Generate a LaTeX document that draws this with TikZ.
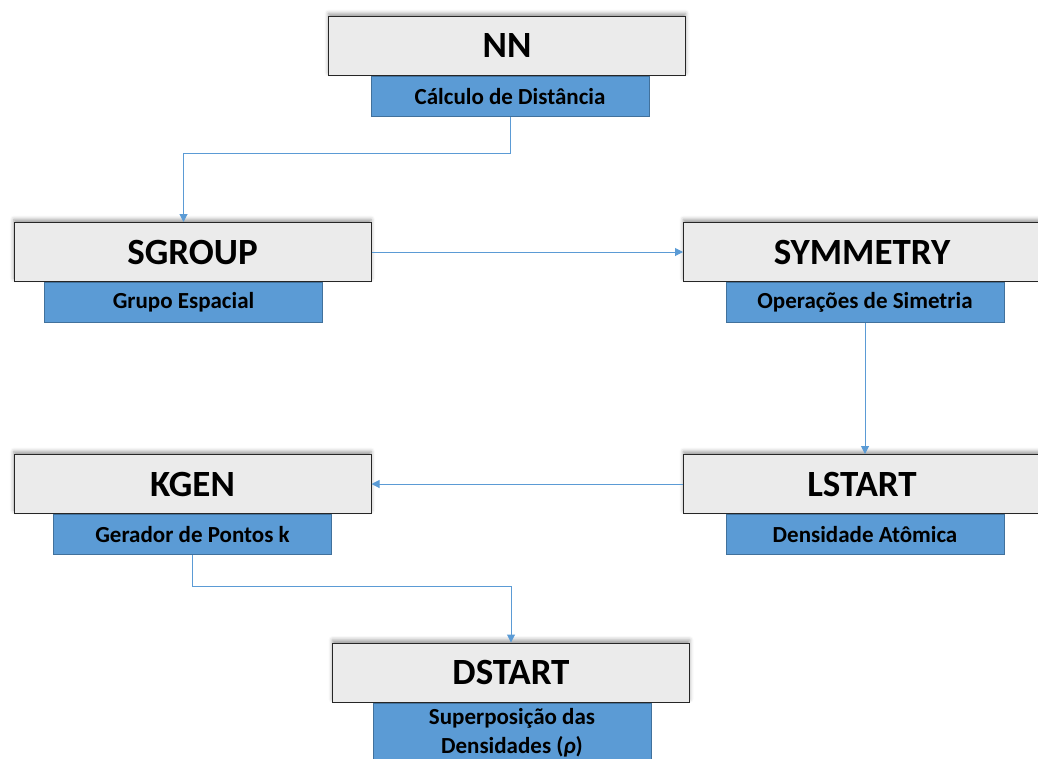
\documentclass[tikz,border=0pt]{standalone}
\usepackage{fontspec}
\setmainfont{Carlito}
\usepackage{tikz}
\usetikzlibrary{arrows.meta,positioning,shadows.blur}

\definecolor{boxgray}{HTML}{EBEBEB}
\definecolor{subblue}{HTML}{5B9BD5}
\definecolor{subedge}{HTML}{41719C}

\begin{document}
\begin{tikzpicture}[x=1pt,y=-1pt,>={Triangle[length=8pt,width=8pt]}]
          \tikzstyle{module}=[draw=black!85,line width=1pt,fill=boxgray,
            minimum width=357pt,minimum height=59pt,inner sep=0pt,
            font=\fontsize{37}{40}\selectfont\bfseries,
            blur shadow={shadow xshift=0pt,shadow yshift=3pt,shadow blur radius=4pt}]
          \tikzstyle{task}=[draw=subedge,line width=0.8pt,fill=subblue,
            minimum width=278pt,minimum height=40pt,inner sep=0pt,
            font=\fontsize{23}{29}\selectfont\bfseries,align=center]
          \tikzstyle{link}=[->,draw=subblue,line width=1pt]

          \useasboundingbox (0,0) rectangle (1038,758);

          \node[module] (nn)       at (507,46)    {NN};
          \node[module] (sgroup)   at (192.5,252) {SGROUP};
          \node[module] (symmetry) at (862,252)   {SYMMETRY};
          \node[module] (kgen)     at (192.5,484) {KGEN};
          \node[module] (lstart)   at (862,484)   {LSTART};
          \node[module] (dstart)   at (511,672.5) {DSTART};

          \node[task] (nnsub)       [below=0pt of nn,xshift=3pt]       {Cálculo de Distância};
          \node[task] (sgroupsub)   [below=0pt of sgroup,xshift=-9pt]  {Grupo Espacial};
          \node[task] (symmetrysub) [below=0pt of symmetry,xshift=3pt] {Operações de Simetria};
          \node[task] (kgensub)     [below=0pt of kgen]                {Gerador de Pontos k};
          \node[task] (lstartsub)   [below=0pt of lstart,xshift=3pt]   {Densidade Atômica};
          \node[task,minimum height=60pt] (dstartsub) [below=0pt of dstart,xshift=1pt]
            {Superposição das\\Densidades (\textit{ρ})};

          \draw[link] (nnsub.south) -- ++(0,37) -| (sgroup.north -| sgroupsub.center);
          \draw[link] (sgroup.east) -- (symmetry.west);
          \draw[link] (symmetrysub.south) -- (symmetrysub.south |- lstart.north);
          \draw[link] (lstart.west) -- (kgen.east);
          \draw[link] (kgensub.south) -- ++(0,32) -| (dstart.north);
        \end{tikzpicture}
\end{document}
